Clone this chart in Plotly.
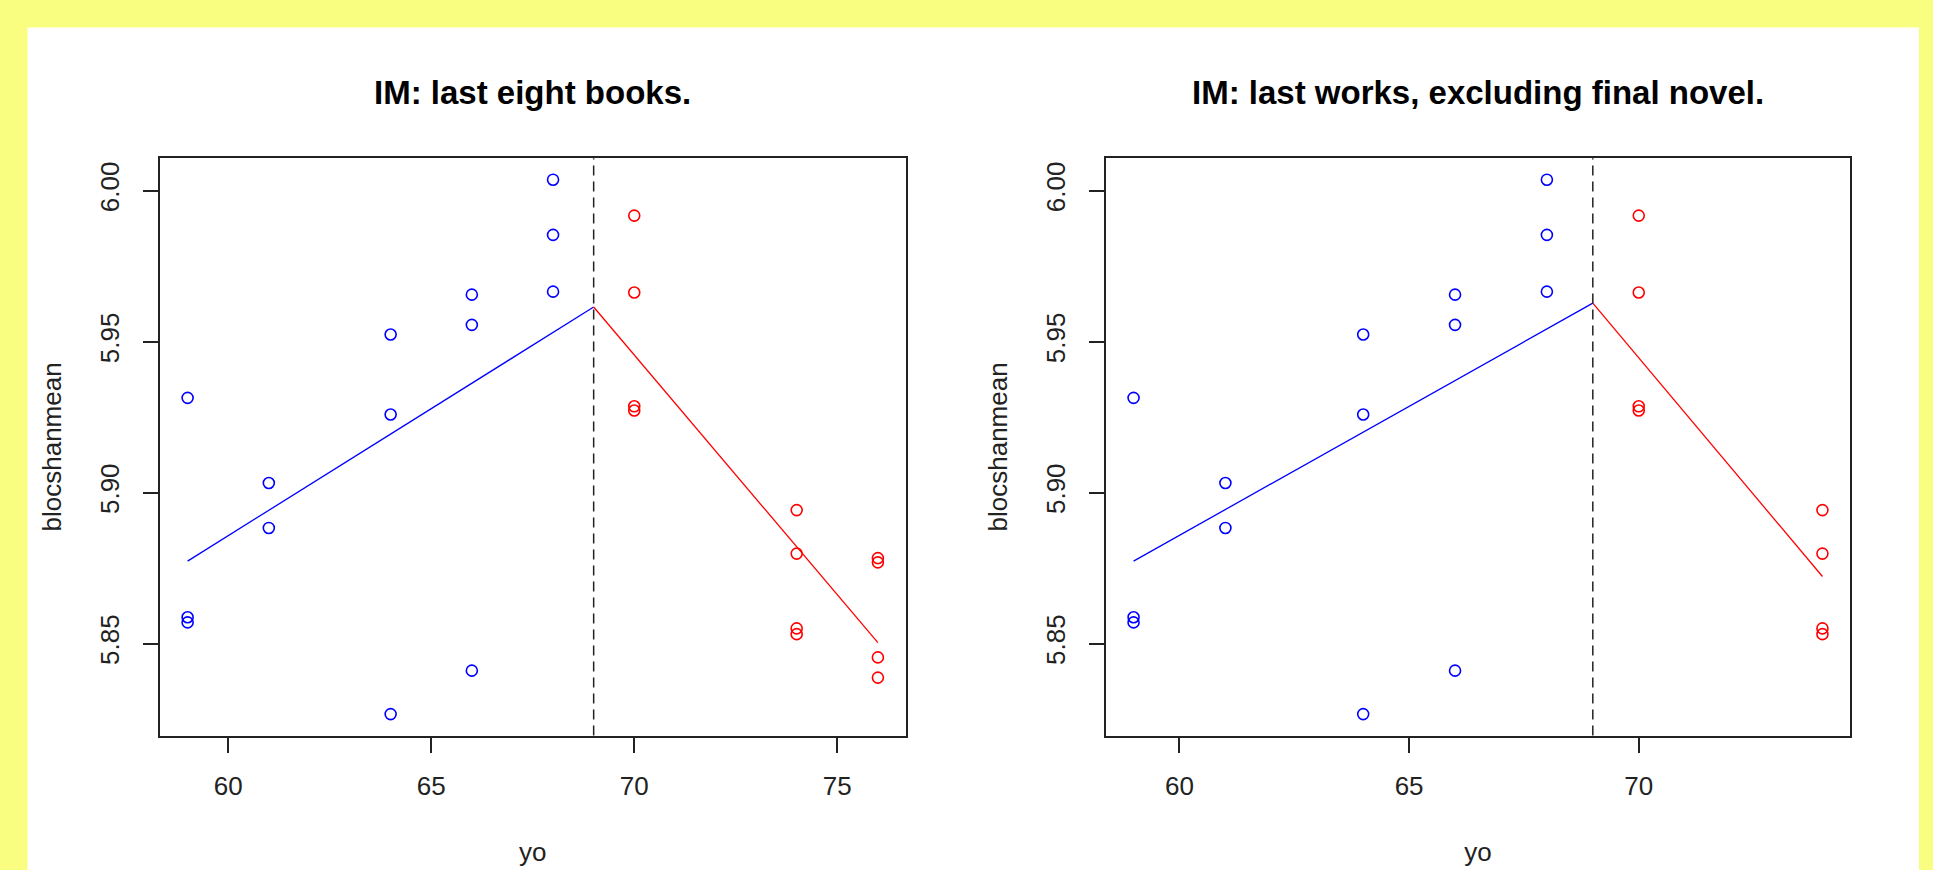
import plotly.graph_objects as go

# ---------------- data ----------------
blue_yo = [59, 59, 59, 61, 61, 64, 64, 64, 66, 66, 66, 68, 68, 68]
blue_val = [5.9314, 5.8587, 5.8570, 5.9032, 5.8883, 5.9524, 5.9259, 5.8266,
            5.9656, 5.9556, 5.8410, 6.0037, 5.9854, 5.9666]

red_yo_all = [70, 70, 70, 70, 74, 74, 74, 74, 76, 76, 76, 76]
red_val_all = [5.9918, 5.9663, 5.9286, 5.9272, 5.8942, 5.8798, 5.8550, 5.8531,
               5.8783, 5.8769, 5.8454, 5.8387]

red_yo_excl = [70, 70, 70, 70, 74, 74, 74, 74]
red_val_excl = [5.9918, 5.9663, 5.9286, 5.9272, 5.8942, 5.8798, 5.8550, 5.8531]

break_yo = 69

# fitted broken-stick lines
fit1_blue_x = [59, 69]
fit1_blue_y = [5.8773, 5.9615]
fit1_red_x = [69, 76]
fit1_red_y = [5.9615, 5.8503]

fit2_blue_x = [59, 69]
fit2_blue_y = [5.8773, 5.9628]
fit2_red_x = [69, 74]
fit2_red_y = [5.9628, 5.8722]

titles = ["IM: last eight books.", "IM: last works, excluding final novel."]
x_ticks_1 = [60, 65, 70, 75]
x_ticks_2 = [60, 65, 70]
y_ticks = [5.85, 5.90, 5.95, 6.00]
x_label = "yo"
y_label = "blocshanmean"

# ---------------- styling ----------------
W, H = 1933, 870
YELLOW = "#FAFE80"
FRAME = "#222222"
FONT = "Liberation Sans, Arial, sans-serif"
BLUE = "#0000FF"
RED = "#FF0000"


def r_range(vals):
    lo, hi = min(vals), max(vals)
    d = (hi - lo) * 0.04
    return [lo - d, hi + d]


fig = go.Figure()


def add_points(x, y, color, xa, ya):
    fig.add_trace(go.Scatter(
        x=x, y=y, mode="markers", xaxis=xa, yaxis=ya,
        marker=dict(symbol="circle-open", size=11, color=color,
                    line=dict(width=1.6, color=color)),
        hoverinfo="x+y"))


def add_line(x, y, color, xa, ya):
    fig.add_trace(go.Scatter(
        x=x, y=y, mode="lines", xaxis=xa, yaxis=ya,
        line=dict(color=color, width=1.3), hoverinfo="skip"))


# panel 1
add_points(blue_yo, blue_val, BLUE, "x", "y")
add_points(red_yo_all, red_val_all, RED, "x", "y")
add_line(fit1_blue_x, fit1_blue_y, BLUE, "x", "y")
add_line(fit1_red_x, fit1_red_y, RED, "x", "y")

# panel 2
add_points(blue_yo, blue_val, BLUE, "x2", "y2")
add_points(red_yo_excl, red_val_excl, RED, "x2", "y2")
add_line(fit2_blue_x, fit2_blue_y, BLUE, "x2", "y2")
add_line(fit2_red_x, fit2_red_y, RED, "x2", "y2")

yd = [1 - 735.5 / H, 1 - 158.3 / H]
xd1 = [160.0 / W, 905.5 / W]
xd2 = [1106.0 / W, 1850.0 / W]

tickfont = dict(family=FONT, size=26, color="#222222")
titlefont = dict(family=FONT, size=26, color="#222222")


def xaxis_cfg(domain, rng, ticks, anchor):
    return dict(domain=domain, range=rng, anchor=anchor,
                tickmode="array", tickvals=ticks, ticktext=[str(t) for t in ticks],
                ticks="outside", ticklen=15, tickwidth=1.5, tickcolor=FRAME,
                ticklabelstandoff=11,
                showline=True, mirror=True, linecolor=FRAME, linewidth=2,
                showgrid=False, zeroline=False, tickfont=tickfont,
                title=dict(text=x_label, font=titlefont, standoff=43))


def yaxis_cfg(rng, anchor):
    return dict(domain=yd, range=rng, anchor=anchor,
                tickmode="array", tickvals=y_ticks,
                ticktext=[f"{t:.2f}" for t in y_ticks], tickangle=-90,
                ticks="outside", ticklen=15, tickwidth=1.5, tickcolor=FRAME,
                ticklabelstandoff=14,
                showline=True, mirror=True, linecolor=FRAME, linewidth=2,
                showgrid=False, zeroline=False, tickfont=tickfont,
                title=dict(text=y_label, font=titlefont, standoff=25))


all_y = blue_val + red_val_all
fig.update_layout(
    width=W, height=H,
    margin=dict(l=0, r=0, t=0, b=0),
    paper_bgcolor=YELLOW, plot_bgcolor="white",
    showlegend=False,
    xaxis=xaxis_cfg(xd1, r_range(blue_yo + red_yo_all), x_ticks_1, "y"),
    yaxis=yaxis_cfg(r_range(all_y), "x"),
    xaxis2=xaxis_cfg(xd2, r_range(blue_yo + red_yo_excl), x_ticks_2, "y2"),
    yaxis2=yaxis_cfg(r_range(blue_val + red_val_excl), "x2"),
)

# white panel behind everything
fig.add_shape(type="rect", xref="paper", yref="paper",
              x0=27.5 / W, x1=1919 / W, y0=-0.02, y1=1 - 27.5 / H,
              fillcolor="white", line=dict(width=0), layer="below")

# breakpoint dashed lines
for xa, ya in (("x", "y"), ("x2", "y2")):
    fig.add_shape(type="line", xref=xa, yref=f"{ya} domain",
                  x0=break_yo, x1=break_yo, y0=0, y1=1,
                  line=dict(color="#222222", width=1.5, dash="10px,6px"))

# panel titles
for dom, t in ((xd1, titles[0]), (xd2, titles[1])):
    fig.add_annotation(text=f"<b>{t}</b>", xref="paper", yref="paper",
                       x=(dom[0] + dom[1]) / 2, y=1 - 93 / H,
                       xanchor="center", yanchor="middle", showarrow=False,
                       font=dict(family=FONT, size=33, color="black"))

post = ("document.body.style.margin='0';"
        "document.body.style.background='" + YELLOW + "';"
        "document.documentElement.style.overflow='hidden';")

fig.write_html("out.html", post_script=post, config={"displayModeBar": False})
